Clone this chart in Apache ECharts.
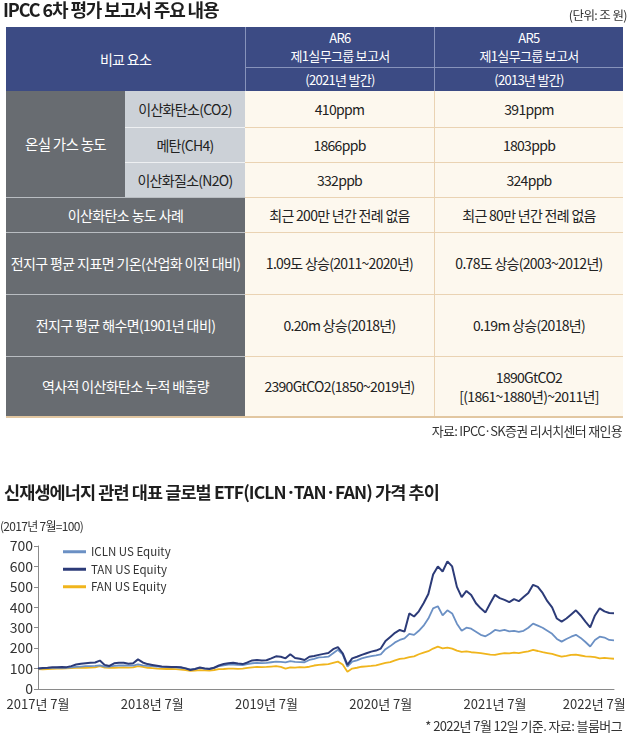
<!DOCTYPE html>
<html><head><meta charset="utf-8">
<script src="https://cdn.jsdelivr.net/npm/echarts@6/dist/echarts.min.js"></script>
<style>
html,body{margin:0;padding:0;background:#fff;}
#wrap{position:relative;width:630px;height:733px;overflow:hidden;font-family:"Noto Sans CJK KR","Noto Sans",sans-serif;}
#chart{position:absolute;left:0;top:0;width:630px;height:733px;}
#overlay{position:absolute;left:0;top:0;width:630px;height:733px;pointer-events:none;}
.t{position:absolute;white-space:nowrap;color:#222;}
.cell{position:absolute;box-sizing:border-box;display:flex;align-items:center;justify-content:center;text-align:center;line-height:1.35;font-size:14px;letter-spacing:-0.7px;}
</style></head>
<body>
<div id="wrap">
<div id="chart"></div>
<div id="overlay"></div>
</div>
<script>
// ---------- table content ----------
const tableTitle = 'IPCC 6차 평가 보고서 주요 내용';
const tableUnit = '(단위: 조 원)';
const headerLabel = '비교 요소';
const headerAR6 = ['AR6', '제1실무그룹 보고서', '(2021년 발간)'];
const headerAR5 = ['AR5', '제1실무그룹 보고서', '(2013년 발간)'];
const gasGroup = '온실 가스 농도';
const gasNames = ['이산화탄소(CO2)', '메탄(CH4)', '이산화질소(N2O)'];
const rowLabels = ['이산화탄소 농도 사례', '전지구 평균 지표면 기온(산업화 이전  대비)', '전지구 평균 해수면(1901년 대비)', '역사적 이산화탄소 누적 배출량'];
const ar6Values = ['410ppm', '1866ppb', '332ppb', '최근 200만 년간 전례 없음', '1.09도 상승(2011~2020년)', '0.20m 상승(2018년)', '2390GtCO2(1850~2019년)'];
const ar5Values = ['391ppm', '1803ppb', '324ppb', '최근 80만 년간 전례 없음', '0.78도 상승(2003~2012년)', '0.19m 상승(2018년)', '1890GtCO2\n[(1861~1880년)~2011년]'];
const tableSource = '자료: IPCC·SK증권 리서치센터 재인용';

// ---------- chart content ----------
const chartTitle = '신재생에너지 관련 대표 글로벌 ETF(ICLN·TAN·FAN) 가격 추이';
const chartUnit = '(2017년 7월=100)';
const chartNote = '* 2022년 7월 12일 기준. 자료: 블룸버그';
const seriesNames = ['ICLN US Equity', 'TAN US Equity', 'FAN US Equity'];
const yTicks = [0, 100, 200, 300, 400, 500, 600, 700];

const iclnValues = [100,101,102,103,104,105,104,106,108,110,112,112,113,116,110,109,113,115,116,114,115,120,116,113,112,110,108,107,106,106,104,101,96,99,103,101,100,104,112,116,119,120,118,117,122,126,128,127,128,131,134,133,130,136,133,132,131,142,148,155,156,158,175,192,170,109,134,140,150,156,161,165,170,195,210,228,240,248,270,265,285,310,345,395,405,360,385,370,320,285,300,295,280,265,258,272,289,285,289,282,285,280,285,300,320,310,300,285,270,245,232,245,256,265,250,230,208,240,256,252,240,238];
const tanValues = [100,103,104,106,107,108,107,112,120,124,126,128,130,139,118,113,126,129,128,124,126,145,130,122,118,114,110,109,108,108,106,101,93,98,105,100,98,104,115,122,126,129,125,122,130,140,142,139,141,150,160,158,150,170,152,148,142,158,162,167,172,176,195,205,175,118,150,158,167,175,183,188,198,235,255,275,289,281,370,355,380,420,465,560,600,575,625,600,500,450,480,460,420,395,375,420,461,445,436,425,440,430,450,470,510,500,470,430,400,345,330,345,365,385,360,330,302,360,395,380,372,371];
const fanValues = [97,96,98,99,100,100,101,102,103,104,104,105,106,112,105,103,104,105,106,105,106,112,108,104,102,100,99,98,98,97,95,92,89,90,92,91,90,93,97,98,100,100,99,100,103,106,108,107,108,110,112,108,100,106,105,107,106,109,115,118,120,122,128,134,120,85,100,104,109,111,113,116,122,128,132,140,147,150,156,160,170,178,185,198,207,199,203,198,188,182,184,180,178,176,172,168,167,172,176,174,178,176,180,184,191,186,180,176,172,165,158,162,167,168,164,160,158,156,150,152,150,148];

// category dates: 1st and 16th of each month, 2017-07 .. 2022-07, then 2022-07-12
const dates = [];
for (let y = 2017, m = 7; y < 2022 || (y === 2022 && m <= 7); ) {
  const mm = String(m).padStart(2, '0');
  dates.push(y + '-' + mm + '-01');
  if (!(y === 2022 && m === 7)) dates.push(y + '-' + mm + '-16');
  m++; if (m > 12) { m = 1; y++; }
}
dates.push('2022-07-12');

// ---------- build HTML table ----------
const ov = document.getElementById('overlay');
function addText(txt, css) {
  const d = document.createElement('div'); d.className = 't'; d.textContent = txt;
  Object.assign(d.style, css); ov.appendChild(d); return d;
}
function addCell(txt, x0, y0, x1, y1, css) {
  const d = document.createElement('div'); d.className = 'cell';
  d.style.left = x0 + 'px'; d.style.top = y0 + 'px';
  d.style.width = (x1 - x0) + 'px'; d.style.height = (y1 - y0) + 'px';
  Object.assign(d.style, css || {});
  txt.split('\n').forEach((line, i) => {
    if (i) d.appendChild(document.createElement('br'));
    d.appendChild(document.createTextNode(line));
  });
  d.style.flexDirection = 'column';
  ov.appendChild(d); return d;
}
addText(tableTitle, {left: '3px', top: '-4px', fontSize: '18px', fontWeight: '700', letterSpacing: '-1.1px', color: '#1e1e1e'});
addText(tableUnit, {right: '3px', top: '5px', fontSize: '12.5px', letterSpacing: '-0.6px', color: '#333'});

const colX = [6, 125, 245, 434, 623];
const rowY = [91, 127, 162, 197, 232, 294, 356, 416];
const hdrTop = 27, hdrMid = 67;
const HDR = '#3c4b84', DARK = '#686c71', LIGHT = '#ccd1d7', CREAM = '#fdf8ee', TAN = '#ead3b3';

const hdrCss = {background: HDR, color: '#fff', fontSize: '13px'};
addCell(headerLabel, colX[0], hdrTop, colX[2], rowY[0], Object.assign({}, hdrCss, {fontSize: '14px'}));
addCell(headerAR6[0] + '\n' + headerAR6[1], colX[2], hdrTop, colX[3], hdrMid, Object.assign({}, hdrCss, {borderLeft: '1px solid #8793bb', lineHeight: '1.35'}));
addCell(headerAR6[2], colX[2], hdrMid, colX[3], rowY[0], Object.assign({}, hdrCss, {borderLeft: '1px solid #8793bb', borderTop: '1px solid #8793bb'}));
addCell(headerAR5[0] + '\n' + headerAR5[1], colX[3], hdrTop, colX[4], hdrMid, Object.assign({}, hdrCss, {borderLeft: '1px solid #8793bb', lineHeight: '1.35'}));
addCell(headerAR5[2], colX[3], hdrMid, colX[4], rowY[0], Object.assign({}, hdrCss, {borderLeft: '1px solid #8793bb', borderTop: '1px solid #8793bb'}));

addCell(gasGroup, colX[0], rowY[0], colX[1], rowY[3], {background: DARK, color: '#fff', fontSize: '14.5px'});
gasNames.forEach((g, i) => {
  addCell(g, colX[1], rowY[i], colX[2], rowY[i + 1], {background: LIGHT, color: '#222', borderTop: i ? '1px solid #eef0f2' : 'none'});
});
rowLabels.forEach((g, i) => {
  addCell(g, colX[0], rowY[i + 3], colX[2], rowY[i + 4], {background: DARK, color: '#fff', fontSize: '14px', letterSpacing: '-0.6px', borderTop: '1.5px solid #b9bdc2'});
});
ar6Values.forEach((v, i) => {
  addCell(v, colX[2], rowY[i], colX[3], rowY[i + 1], {background: CREAM, color: '#222', borderTop: i ? '1px solid ' + TAN : 'none'});
});
ar5Values.forEach((v, i) => {
  addCell(v, colX[3], rowY[i], colX[4], rowY[i + 1], {background: CREAM, color: '#222', borderLeft: '1px solid ' + TAN, borderTop: i ? '1px solid ' + TAN : 'none'});
});
const bl = document.createElement('div');
Object.assign(bl.style, {position: 'absolute', left: colX[0] + 'px', top: rowY[7] + 'px', width: (colX[4] - colX[0]) + 'px', height: '2px', background: '#e2c7a1'});
ov.appendChild(bl);
addText(tableSource, {right: '8px', top: '421px', fontSize: '13px', letterSpacing: '-0.7px', color: '#333'});

addText(chartTitle, {left: '4px', top: '479px', fontSize: '17.5px', fontWeight: '700', letterSpacing: '-0.9px', color: '#1e1e1e'});
addText(chartUnit, {left: '0px', top: '517px', fontSize: '12px', letterSpacing: '-0.7px', color: '#333'});
addText(chartNote, {right: '8px', top: '716px', fontSize: '13px', letterSpacing: '-0.6px', color: '#333'});

// ---------- ECharts line chart ----------
const chart = echarts.init(document.getElementById('chart'), null, {renderer: 'canvas'});
const colors = ['#6b90c4', '#2c3b78', '#f0b51d'];
chart.setOption({
  animation: false,
  backgroundColor: '#fff',
  textStyle: {fontFamily: '"Noto Sans CJK KR","Noto Sans",sans-serif'},
  grid: {left: 38, right: 16, top: 546, bottom: 44, containLabel: false},
  legend: {
    orient: 'vertical', left: 58, top: 541,
    data: seriesNames, icon: 'rect', itemWidth: 23, itemHeight: 3, itemGap: 6,
    textStyle: {fontSize: 11.5, color: '#333', padding: [0, 0, 0, 0]}
  },
  xAxis: {
    type: 'category', data: dates, boundaryGap: false,
    axisLine: {lineStyle: {color: '#8a8a8a', width: 1}},
    axisTick: {show: false},
    axisLabel: {
      interval: (idx, val) => val.endsWith('-07-01'),
      formatter: (val) => {
        const s = val.slice(0, 4) + '년 7월';
        return val.startsWith('2022') ? '{last|' + s + '}' : s;
      },
      rich: {last: {padding: [0, 30, 0, 0], fontSize: 13, color: '#333'}},
      fontSize: 13, color: '#333', margin: 9
    },
    splitLine: {show: false}
  },
  yAxis: {
    type: 'value', min: yTicks[0], max: yTicks[yTicks.length - 1], interval: 100,
    axisLine: {show: true, lineStyle: {color: '#8a8a8a', width: 1}},
    axisTick: {show: true, length: 4, lineStyle: {color: '#8a8a8a'}},
    axisLabel: {fontSize: 14, color: '#333', margin: 5},
    splitLine: {show: false}
  },
  series: [
    {name: seriesNames[0], type: 'line', data: iclnValues, symbol: 'none', color: colors[0], lineStyle: {width: 1.8, color: colors[0]}, z: 2},
    {name: seriesNames[1], type: 'line', data: tanValues, symbol: 'none', color: colors[1], lineStyle: {width: 2, color: colors[1]}, z: 3},
    {name: seriesNames[2], type: 'line', data: fanValues, symbol: 'none', color: colors[2], lineStyle: {width: 1.8, color: colors[2]}, z: 1}
  ]
});
</script>
</body></html>
